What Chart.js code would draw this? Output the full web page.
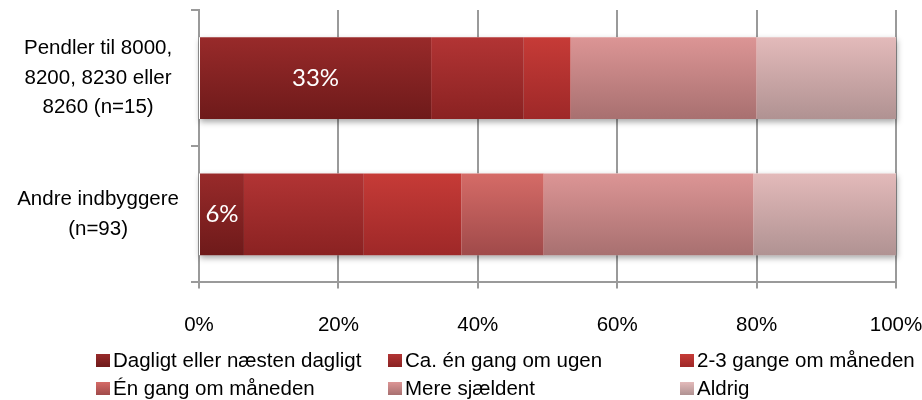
<!DOCTYPE html>
<html>
<head>
<meta charset="utf-8">
<script src="https://cdn.jsdelivr.net/npm/chart.js@4.4.1/dist/chart.umd.min.js"></script>
<style>
    html, body { margin: 0; padding: 0; background: #fff; }
    #wrap { position: relative; width: 922px; height: 400px; }
    #legend { position: absolute; left: 0; top: 0; width: 922px; height: 400px; pointer-events: none;
              font-family: 'Liberation Sans', Arial, sans-serif; font-size: 20.5px; color: #000; }
    .item { position: absolute; height: 28px; display: flex; align-items: center; white-space: nowrap; }
    .box { width: 14px; height: 13px; margin-right: 3px; }
</style>
</head>
<body>
<div id="wrap">
    <canvas id="chart" width="922" height="400"></canvas>
    <div id="legend"></div>
</div>
<script>
// categories (y axis) and series
const categories = [
    ['Pendler til 8000,', '8200, 8230 eller', '8260 (n=15)'],
    ['Andre indbyggere', '(n=93)']
];
const seriesNames = ['Dagligt eller næsten dagligt', 'Ca. én gang om ugen', '2-3 gange om måneden',
                     'Én gang om måneden', 'Mere sjældent', 'Aldrig'];

// percentages per series: [pendlere, andre]
const dagligt   = [33.3, 6.45];
const ugentligt = [13.3, 17.2];
const flereMdr  = [6.7, 14.0];
const enMdr     = [0, 11.8];
const sjaeldent = [26.7, 30.1];
const aldrig    = [20.0, 20.45];
const seriesValues = [dagligt, ugentligt, flereMdr, enMdr, sjaeldent, aldrig];

const xTicks = [0, 20, 40, 60, 80, 100];

// gradient colours, top -> bottom
const colTop    = ['#982a2a', '#b23434', '#c63b37', '#d56b67', '#dc9595', '#e3baba'];
const colBottom = ['#6e1a1a', '#8a2222', '#9e2828', '#a04a4a', '#a87070', '#b09292'];

const GRID = '#9a9a9a';
const FONT = "'Liberation Sans', Arial, sans-serif";
const BAR_PCT = 0.6;

function barFill(i) {
    return (c) => {
        const chart = c.chart;
        if (!chart.chartArea || c.dataIndex === undefined) return colTop[i];
        const band = (chart.chartArea.bottom - chart.chartArea.top) / categories.length;
        const cy = chart.scales.y.getPixelForValue(c.dataIndex);
        const g = chart.ctx.createLinearGradient(0, cy - band * BAR_PCT / 2, 0, cy + band * BAR_PCT / 2);
        g.addColorStop(0, colTop[i]);
        g.addColorStop(1, colBottom[i]);
        return g;
    };
}

// soft shadow under each full bar stack
const shadowPlugin = {
    id: 'stackShadow',
    beforeDatasetsDraw(chart) {
        const { ctx, chartArea, scales } = chart;
        const band = (chartArea.bottom - chartArea.top) / categories.length;
        ctx.save();
        ctx.shadowColor = 'rgba(0,0,0,0.35)';
        ctx.shadowBlur = 6;
        ctx.shadowOffsetX = 1;
        ctx.shadowOffsetY = 3;
        ctx.fillStyle = '#fff';
        categories.forEach((_, j) => {
            const total = seriesValues.reduce((s, arr) => s + arr[j], 0);
            const x0 = scales.x.getPixelForValue(0);
            const x1 = scales.x.getPixelForValue(Math.min(total, 100));
            const cy = scales.y.getPixelForValue(j);
            const h = band * BAR_PCT;
            ctx.fillRect(x0, cy - h / 2, x1 - x0, h);
        });
        ctx.restore();
    }
};

// value labels in the first series only
const labelPlugin = {
    id: 'firstLabels',
    afterDatasetsDraw(chart) {
        const { ctx } = chart;
        const meta = chart.getDatasetMeta(0);
        ctx.save();
        ctx.fillStyle = '#fff';
        ctx.font = '24px Lato, "Open Sans", sans-serif';
        ctx.textAlign = 'center';
        ctx.textBaseline = 'middle';
        meta.data.forEach((bar, j) => {
            const p = bar.getCenterPoint();
            ctx.fillText(Math.round(dagligt[j]) + '%', p.x, p.y);
        });
        ctx.restore();
    }
};

new Chart(document.getElementById('chart'), {
    type: 'bar',
    data: {
        labels: categories,
        datasets: seriesNames.map((name, i) => ({
            label: name,
            data: seriesValues[i],
            backgroundColor: barFill(i),
            borderWidth: 0,
            barPercentage: BAR_PCT,
            categoryPercentage: 1
        }))
    },
    options: {
        indexAxis: 'y',
        responsive: false,
        animation: false,
        devicePixelRatio: 1,
        layout: { padding: { top: 10, bottom: 37, left: 0, right: 0 } },
        plugins: {
            legend: { display: false },
            tooltip: { enabled: false }
        },
        scales: {
            x: {
                stacked: true,
                min: 0,
                max: 100,
                afterBuildTicks: (scale) => { scale.ticks = xTicks.map(v => ({ value: v })); },
                afterFit: (scale) => { scale.paddingLeft = 0; scale.paddingRight = 26; },
                ticks: {
                    callback: (v) => v + '%',
                    color: '#000',
                    padding: 25,
                    font: { family: FONT, size: 20.5 },
                    maxRotation: 0
                },
                grid: { color: GRID, lineWidth: 2, tickLength: 6 },
                border: { color: GRID, width: 2 }
            },
            y: {
                stacked: true,
                afterFit: (scale) => { scale.width = 199; scale.paddingTop = 0; scale.paddingBottom = 0; },
                ticks: {
                    color: '#000',
                    crossAlign: 'center',
                    padding: 12,
                    font: { family: FONT, size: 20.5, lineHeight: 1.44 }
                },
                grid: { offset: true, drawOnChartArea: false, color: GRID, lineWidth: 2, tickLength: 8 },
                border: { color: GRID, width: 2 }
            }
        }
    },
    plugins: [shadowPlugin, labelPlugin]
});

// legend, 3 columns x 2 rows
const legend = document.getElementById('legend');
const colX = [96, 388, 680];
const rowY = [346, 374];
seriesNames.forEach((name, i) => {
    const item = document.createElement('div');
    item.className = 'item';
    item.style.left = colX[i % 3] + 'px';
    item.style.top = rowY[Math.floor(i / 3)] + 'px';
    const box = document.createElement('span');
    box.className = 'box';
    box.style.background = 'linear-gradient(' + colTop[i] + ', ' + colBottom[i] + ')';
    const txt = document.createElement('span');
    txt.textContent = name;
    item.appendChild(box);
    item.appendChild(txt);
    legend.appendChild(item);
});
</script>
</body>
</html>
